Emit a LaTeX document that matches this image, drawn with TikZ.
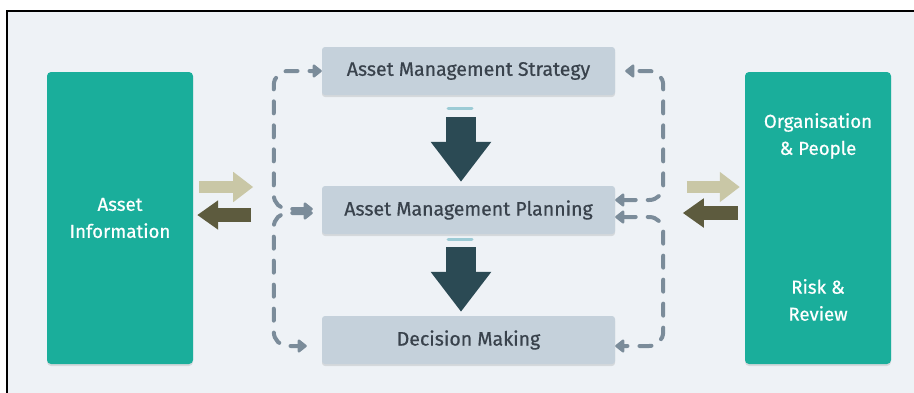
\documentclass[tikz,border=0pt]{standalone}
\usepackage{fontspec}
\setmainfont{Fira Sans}[UprightFeatures={FakeBold=0.6}]
\usetikzlibrary{arrows.meta,calc,shadows}

\definecolor{panelbg}{HTML}{EEF2F6}
\definecolor{tealbox}{HTML}{1AAE9B}
\definecolor{stagefill}{HTML}{C5D1DB}
\definecolor{stagetext}{HTML}{39424C}
\definecolor{downcol}{HTML}{2B4A54}
\definecolor{tickblue}{HTML}{9CCBD5}
\definecolor{conngray}{HTML}{7B8C9A}
\definecolor{khaki}{HTML}{C9C7A6}
\definecolor{olive}{HTML}{5D5B3E}

\begin{document}
\begin{tikzpicture}[x=1pt,y=-1pt,
  softshadow/.style={drop shadow={shadow xshift=0pt,shadow yshift=-2pt,opacity=0.10,fill=black}},
  sidebox/.style={fill=tealbox, rounded corners=4pt, minimum width=146pt,
    minimum height=292pt, inner sep=0pt, softshadow},
  sidetext/.style={text=white, align=center, font=\fontsize{18.7}{27}\selectfont},
  stagebox/.style={fill=stagefill, rounded corners=3pt, minimum width=293pt,
    minimum height=48pt, inner sep=0pt, text=stagetext,
    font=\fontsize{19.5}{20}\selectfont, softshadow},
  bigdown/.style={draw=downcol, line width=30pt, -{Triangle[length=40pt,width=58pt]}},
  tick/.style={draw=tickblue, line width=3pt, line cap=round},
  feedin/.style={draw=khaki, line width=12pt, -{Triangle[length=20pt,width=29pt]}},
  feedout/.style={draw=olive, line width=14pt, -{Triangle[length=21pt,width=28pt]}},
  conn/.style={draw=conngray, line width=4pt, line cap=round,
    dash pattern=on 12pt off 12pt, rounded corners=14pt,
    >={Triangle[length=10pt,width=15pt,round]}, <->}
]
\useasboundingbox (0,0) rectangle (914,392);
\clip (0,0) rectangle (914,392);
\fill[white] (0,0) rectangle (914,392);
\draw[line width=2pt, fill=panelbg] (7,11) rectangle (940,420);

% side columns
\node[sidebox] (info) at (120,218) {};
\node[sidetext] (infotext) at (info.center) {Asset\\Information};
\node[sidebox] (org) at (818,218) {};
\node[sidetext] (orgtext) at ($(org.center)+(0,-82)$) {Organisation\\\& People};
\node[sidetext] (risktext) at ($(org.center)+(0,82)$) {Risk \&\\Review};

% central stages
\node[stagebox] (strat) at (468.5,71) {Asset Management Strategy};
\node[stagebox] (plan) at (468.5,210) {Asset Management Planning};
\node[stagebox] (dec) at (468.5,340) {Decision Making};

% flow between stages
\draw[tick] ($(strat.south)+(-20.5,13)$) -- ++(24,0);
\draw[bigdown] ($(strat.south)+(-7.5,22)$) -- ($(plan.north)+(-7.5,-4)$);
\draw[tick] ($(plan.south)+(-20.5,5)$) -- ++(24,0);
\draw[bigdown] ($(plan.south)+(-7.5,13)$) -- ($(dec.north)+(-7.5,-4)$);

% exchange with side columns
\draw[feedin] ($(info.east)+(6,-31)$) -- ($(info.east)+(60,-31)$);
\draw[feedout] ($(info.east)+(58,-3)$) -- ($(info.east)+(4,-3)$);
\draw[feedin] ($(org.west)+(-58,-31)$) -- ($(org.west)+(-5,-31)$);
\draw[feedout] ($(org.west)+(-7,-5)$) -- ($(org.west)+(-62,-5)$);

% feedback loops
\draw[conn] ($(plan.west)+(-9,-1)$) -| ($(strat.west)+(-48,0)$) -- (strat.west);
\draw[conn] ($(plan.west)+(-9,3)$) -| ($(dec.west)+(-48,6)$) -- ($(dec.west)+(-15,6)$);
\draw[conn] ($(plan.east)+(0,-10)$) -| ($(strat.east)+(48,0)$) -- ($(strat.east)+(10,0)$);
\draw[conn] ($(plan.east)+(0,7)$) -| ($(dec.east)+(48,6)$) -- ($(dec.east)+(0,6)$);
\end{tikzpicture}
\end{document}
